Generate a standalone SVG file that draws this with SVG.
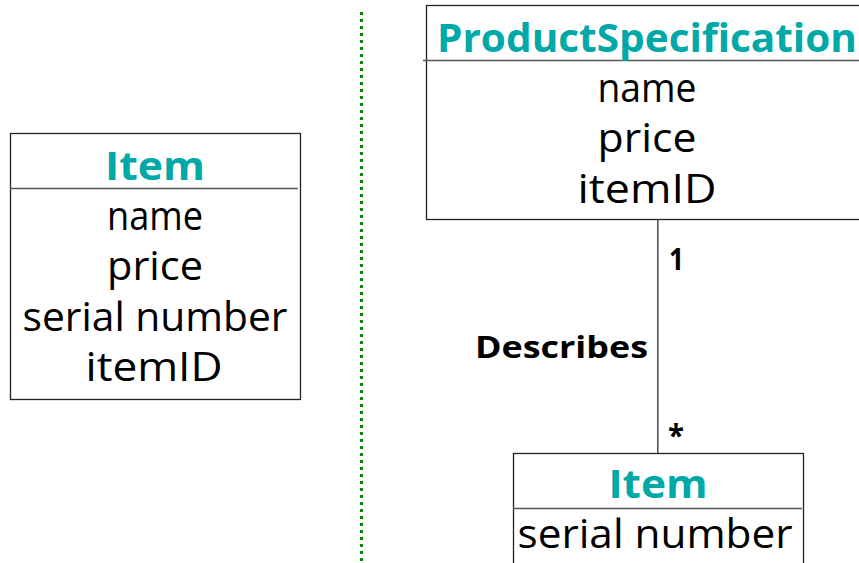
<svg xmlns="http://www.w3.org/2000/svg" width="859" height="563" viewBox="0 0 859 563">
  <style>
    .box { fill: #ffffff; stroke: #222222; stroke-width: 1.3; }
    .rule { stroke: #555555; stroke-width: 1.5; }
    .title { font-family: "Open Sans", "DejaVu Sans", sans-serif; font-weight: bold; font-size: 40px; fill: #00A8A8; text-anchor: middle; }
    .attr { font-family: "Open Sans", "DejaVu Sans", sans-serif; font-size: 40px; fill: #000000; text-anchor: middle; }
    .label { font-family: "Open Sans", "DejaVu Sans", sans-serif; font-weight: bold; font-size: 31px; fill: #000000; }
    .link { stroke: #555555; stroke-width: 1.6; fill: none; }
    .divider { stroke: #008a00; stroke-width: 3; stroke-dasharray: 3 4; }
  </style>
  <rect width="859" height="563" fill="#ffffff"/>

  <!-- separator between the two models -->
  <line class="divider" x1="361.5" y1="12" x2="361.5" y2="563"/>

  <!-- single class model -->
  <g id="item-left">
    <rect class="box" x="10.5" y="133.5" width="290" height="266"/>
    <line class="rule" x1="10" y1="188.5" x2="298" y2="188.5"/>
    <text class="title" x="155" y="180" textLength="100" lengthAdjust="spacingAndGlyphs">Item</text>
    <text class="attr" x="155" y="230" textLength="96" lengthAdjust="spacingAndGlyphs">name</text>
    <text class="attr" x="155" y="280" textLength="96" lengthAdjust="spacingAndGlyphs">price</text>
    <text class="attr" x="155" y="331" textLength="265" lengthAdjust="spacingAndGlyphs">serial number</text>
    <text class="attr" x="154" y="381" textLength="137" lengthAdjust="spacingAndGlyphs">itemID</text>
  </g>

  <!-- specification class -->
  <g id="product-specification">
    <rect class="box" x="426.5" y="5.5" width="440" height="214"/>
    <line class="rule" x1="423" y1="60.5" x2="859" y2="60.5"/>
    <text class="title" x="647" y="52" textLength="420" lengthAdjust="spacingAndGlyphs">ProductSpecification</text>
    <text class="attr" x="647" y="102" textLength="99" lengthAdjust="spacingAndGlyphs">name</text>
    <text class="attr" x="647" y="152" textLength="99" lengthAdjust="spacingAndGlyphs">price</text>
    <text class="attr" x="647" y="203" textLength="139" lengthAdjust="spacingAndGlyphs">itemID</text>
  </g>

  <!-- item class -->
  <g id="item-right">
    <rect class="box" x="513.5" y="453.5" width="290" height="120"/>
    <line class="rule" x1="513" y1="508.5" x2="802" y2="508.5"/>
    <text class="title" x="658" y="498" textLength="99" lengthAdjust="spacingAndGlyphs">Item</text>
    <text class="attr" x="655" y="548" textLength="275" lengthAdjust="spacingAndGlyphs">serial number</text>
  </g>

  <!-- association -->
  <g id="connectors">
    <line class="link" x1="657.8" y1="220" x2="657.8" y2="453"/>
    <text class="label" x="669" y="270" textLength="15" lengthAdjust="spacingAndGlyphs">1</text>
    <text class="label" x="475" y="358" textLength="173" lengthAdjust="spacingAndGlyphs">Describes</text>
    <text class="label" x="668" y="446" textLength="16" lengthAdjust="spacingAndGlyphs">*</text>
  </g>
</svg>
